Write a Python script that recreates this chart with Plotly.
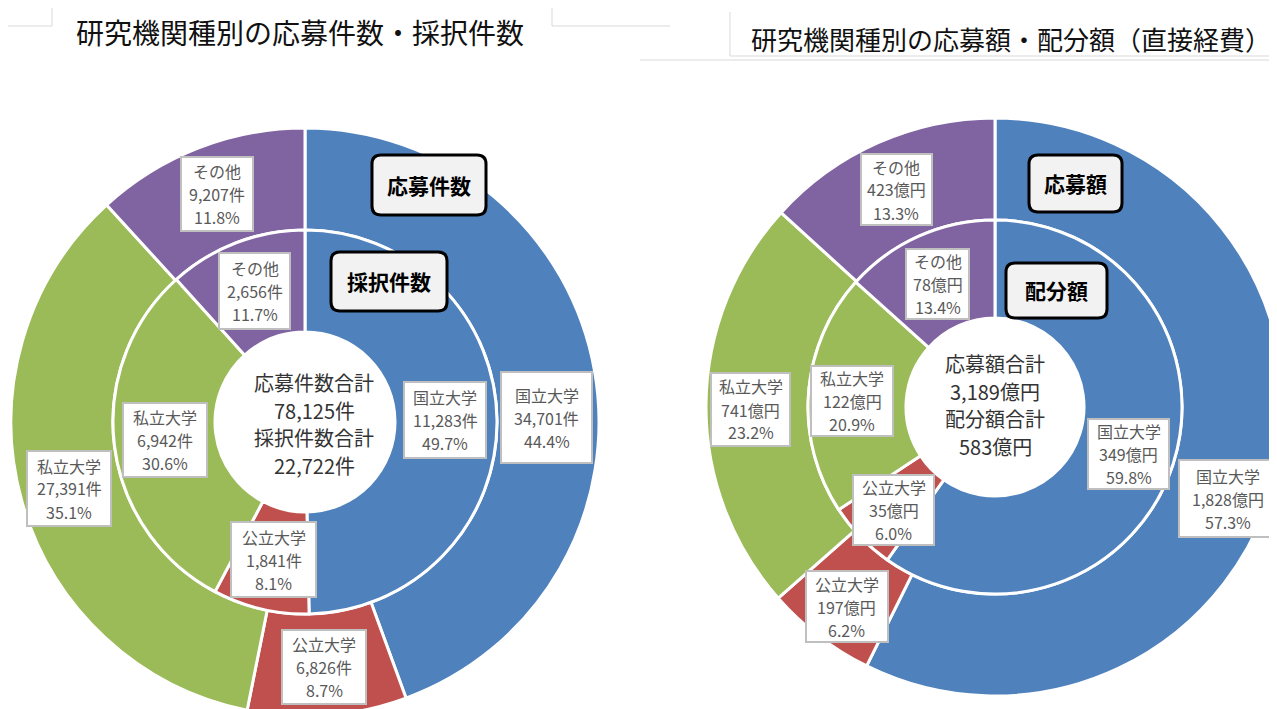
import plotly.graph_objects as go

W, H = 1277, 709
OFF = 8  # page body margin offset of the rendered figure

# ---------------- data ----------------
categories = ["国立大学", "公立大学", "私立大学", "その他"]
colors = ["#4F81BD", "#C0504D", "#9BBB59", "#8064A2"]
applications = [34701, 6826, 27391, 9207]   # 応募件数
adoptions = [11283, 1841, 6942, 2656]       # 採択件数
app_amount = [1828, 197, 741, 423]          # 応募額（億円）
alloc_amount = [349, 35, 122, 78]           # 配分額（億円）
alloc_total_display = 583                   # 配分額合計（億円, 表示値）

left_title = "研究機関種別の応募件数・採択件数"
right_title = "研究機関種別の応募額・配分額（直接経費）"

FONT = "Noto Sans CJK JP"


def px_x(x):
    return min(max((x - OFF) / W, 0.0), 1.0)


def px_y(y):
    return min(max(1 - (y - OFF) / H, 0.0), 1.0)


def fx(x):
    return (x - OFF) / W


def fy(y):
    return 1 - (y - OFF) / H


def dom(cx, cy, r):
    return dict(x=[px_x(cx - r), px_x(cx + r)], y=[px_y(cy + r), px_y(cy - r)])


def ring(values, cx, cy, r, hole, name):
    return go.Pie(
        values=values, labels=categories, name=name,
        domain=dom(cx, cy, r), hole=hole, sort=False,
        direction="clockwise", rotation=0,
        marker=dict(colors=colors, line=dict(color="white", width=3)),
        textinfo="none", hoverinfo="label+value+percent", showlegend=False,
    )


# geometry (screen px)
L_CX, L_CY, L_R, L_RI, L_RH = 305, 422, 294, 192, 90
R_CX, R_CY, R_R, R_RI, R_RH = 995, 407, 289, 187, 89

fig = go.Figure()
fig.add_trace(ring(applications, L_CX, L_CY, L_R, L_RI / L_R, "応募件数"))
fig.add_trace(ring(adoptions, L_CX, L_CY, L_RI, L_RH / L_RI, "採択件数"))
fig.add_trace(ring(app_amount, R_CX, R_CY, R_R, R_RI / R_R, "応募額"))
fig.add_trace(ring(alloc_amount, R_CX, R_CY, R_RI, R_RH / R_RI, "配分額"))

annotations = []
shapes = []


def text_line(t, x, y, size, color, bold=False):
    annotations.append(dict(
        x=fx(x), y=fy(y), xref="paper", yref="paper", showarrow=False,
        xanchor="center", yanchor="middle", align="center",
        text=f"<b>{t}</b>" if bold else t,
        font=dict(family=FONT, size=size, color=color)))


def label_lines(values, unit):
    tot = sum(values)
    return [[c, f"{v:,}{unit}", f"{v / tot * 100:.1f}%"] for c, v in zip(categories, values)]


LABEL_STEP = 23


def add_boxes(lines_list, boxes):
    for lines, (x0, y0, x1, y1) in zip(lines_list, boxes):
        shapes.append(dict(type="rect", xref="paper", yref="paper",
                           x0=fx(x0), x1=fx(x1), y0=fy(y0), y1=fy(y1),
                           fillcolor="white", line=dict(color="#BFBFBF", width=2)))
        cx, cy = (x0 + x1) / 2, (y0 + y1) / 2
        n = len(lines)
        for i, t in enumerate(lines):
            text_line(t, cx, cy + (i - (n - 1) / 2) * LABEL_STEP, 16, "#595959")


# label boxes (screen px), order follows categories
add_boxes(label_lines(applications, "件"),
          [(501, 372, 592, 463), (282, 630, 366, 704), (27, 451, 111, 526), (181, 157, 253, 231)])
add_boxes(label_lines(adoptions, "件"),
          [(404, 382, 486, 458), (231, 522, 316, 597), (123, 403, 207, 477), (219, 253, 290, 329)])
add_boxes(label_lines(app_amount, "億円"),
          [(1179, 460, 1276, 537), (806, 571, 888, 642), (711, 373, 790, 446), (861, 154, 932, 225)])
add_boxes(label_lines(alloc_amount, "億円"),
          [(1088, 419, 1169, 489), (853, 475, 934, 545), (811, 366, 893, 436), (906, 249, 969, 319)])

# center texts
CENTER_STEP = 27.5
left_center = ["応募件数合計", f"{sum(applications):,}件", "採択件数合計", f"{sum(adoptions):,}件"]
right_center = ["応募額合計", f"{sum(app_amount):,}億円", "配分額合計", f"{alloc_total_display}億円"]
for i, t in enumerate(left_center):
    text_line(t, 314, 424 + (i - 1.5) * CENTER_STEP, 20, "#333333")
for i, t in enumerate(right_center):
    text_line(t, 995, 405 + (i - 1.5) * CENTER_STEP, 20, "#333333")

# titles
text_line(left_title, 300, 32, 28, "#111111")
text_line(right_title, 1011, 38, 26, "#111111")


def rrect(x0, y0, x1, y1, r):
    return (f"M {fx(x0 + r)},{fy(y0)} L {fx(x1 - r)},{fy(y0)} Q {fx(x1)},{fy(y0)} {fx(x1)},{fy(y0 + r)} "
            f"L {fx(x1)},{fy(y1 - r)} Q {fx(x1)},{fy(y1)} {fx(x1 - r)},{fy(y1)} "
            f"L {fx(x0 + r)},{fy(y1)} Q {fx(x0)},{fy(y1)} {fx(x0)},{fy(y1 - r)} "
            f"L {fx(x0)},{fy(y0 + r)} Q {fx(x0)},{fy(y0)} {fx(x0 + r)},{fy(y0)} Z")


callouts = [("応募件数", 372, 155, 486, 215), ("採択件数", 331, 252, 447, 311),
            ("応募額", 1029, 155, 1122, 212), ("配分額", 1006, 263, 1107, 318)]
for t, x0, y0, x1, y1 in callouts:
    shapes.append(dict(type="path", xref="paper", yref="paper", path=rrect(x0, y0, x1, y1, 9),
                       fillcolor="#F2F2F2", line=dict(color="black", width=3)))
    text_line(t, (x0 + x1) / 2, (y0 + y1) / 2, 21, "black", bold=True)

# faint frame lines (screen px)
for (x0, y0, x1, y1) in [(8, 26, 52, 26), (52, 8, 52, 26), (552, 8, 552, 26), (552, 26, 670, 26),
                         (640, 60, 1277, 60), (730, 12, 730, 56), (730, 56, 1277, 56)]:
    shapes.append(dict(type="line", xref="paper", yref="paper",
                       x0=fx(x0), y0=fy(y0), x1=fx(x1), y1=fy(y1),
                       line=dict(color="#D9D9D9", width=1)))

fig.update_layout(
    width=W, height=H, margin=dict(l=0, r=0, t=0, b=0),
    paper_bgcolor="white", plot_bgcolor="white",
    annotations=annotations, shapes=shapes, showlegend=False,
    font=dict(family=FONT),
)

fig.write_html("out.html")
